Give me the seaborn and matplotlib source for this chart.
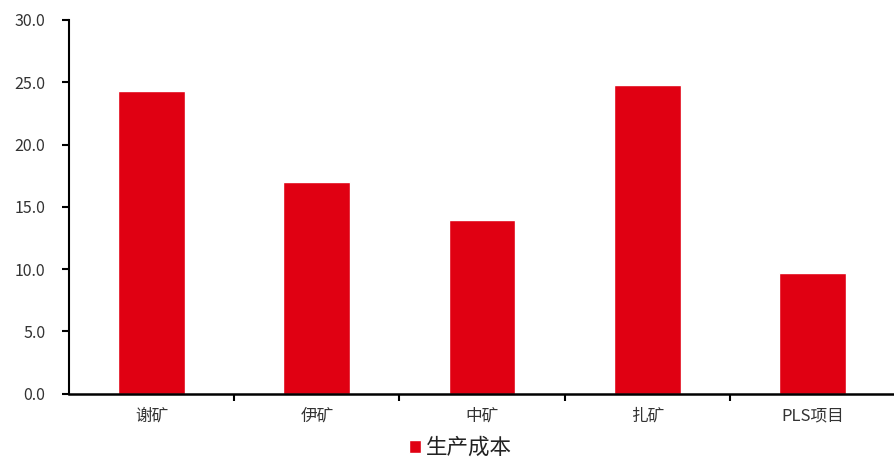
import matplotlib
matplotlib.use("Agg")
import matplotlib.pyplot as plt
import seaborn as sns
import pandas as pd
import numpy as np
from matplotlib.ticker import FixedLocator, FormatStrFormatter

categories = ["谢矿", "伊矿", "中矿", "扎矿", "PLS项目"]
costs = [24.3, 17.0, 13.9, 24.8, 9.7]
series_name = "生产成本"
yticks = [0, 5, 10, 15, 20, 25, 30]

sns.set_theme(style="white")
plt.rcParams["font.family"] = ["Noto Sans CJK SC", "DejaVu Sans"]

df = pd.DataFrame({"矿区": categories, "成本": costs, "系列": series_name})

fig = plt.figure(figsize=(8.95, 4.58), dpi=100)
ax = fig.add_axes([69 / 895, 1 - 393.5 / 458, 826 / 895, 373.5 / 458])

red = "#E00012"
sns.barplot(data=df, x="矿区", y="成本", hue="系列", palette=[red],
            width=0.405, ax=ax, legend=True, saturation=1)

ax.set_ylim(0, 30)
ax.set_xlim(-0.5, len(categories) - 0.5)
ax.set_yticks(yticks)
ax.yaxis.set_major_formatter(FormatStrFormatter("%.1f"))
ax.set_xlabel("")
ax.set_ylabel("")

# category labels without tick marks; tick marks sit at category boundaries
ax.tick_params(axis="x", which="major", length=0, pad=10, labelsize=12, colors="#333333")
ax.xaxis.set_minor_locator(FixedLocator(np.arange(0.5, len(categories) - 1, 1.0)))
ax.tick_params(axis="x", which="minor", bottom=True, length=5, width=1.5, color="black", direction="out")
ax.tick_params(axis="y", which="major", left=True, length=5, width=1.5, color="black",
               direction="out", labelsize=11.5, labelcolor="#333333", pad=12)

for side in ["top", "right"]:
    ax.spines[side].set_visible(False)
ax.spines["left"].set_color("black")
ax.spines["left"].set_linewidth(1.5)
ax.spines["bottom"].set_color("black")
ax.spines["bottom"].set_linewidth(1.8)

leg = ax.legend(loc="center", bbox_to_anchor=(0.474, -0.145), frameon=False,
                handlelength=0.55, handleheight=0.55, handletextpad=0.25,
                borderpad=0, prop={"size": 15.5})
for t in leg.get_texts():
    t.set_color("#222222")

fig.savefig("out.png", dpi=100)
